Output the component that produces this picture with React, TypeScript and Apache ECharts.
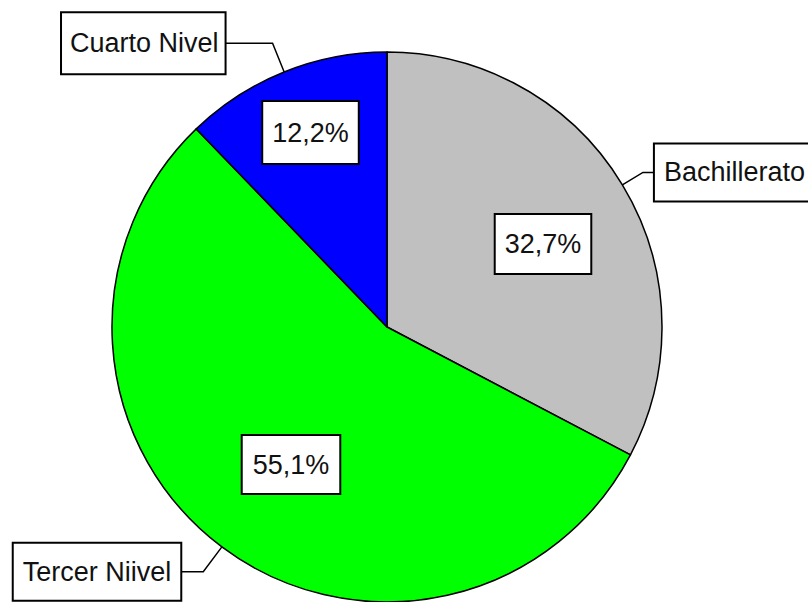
import React, { useEffect, useRef } from 'react';
import * as echarts from 'echarts';

// Data
const categories = ['Bachillerato', 'Tercer Niivel', 'Cuarto Nivel'];
const values = [32.7, 55.1, 12.2];
const colors = ['#C0C0C0', '#00FF00', '#0000FF'];

// Label layout helpers (styles / placement, not data)
const lineLen = [24, 31, 31];
const lineLen2 = [12, 23, 48];
const namePadding = [
  [9, 9, 17, 9],
  [9, 9, 17, 9],
  [10, 6, 20, 8],
];
const pctPadding = [
  [14, 9, 14, 9],
  [13, 10, 14, 10],
  [14, 9, 17, 9],
];
const pctCenters = [
  [543, 244],
  [291, 464.5],
  [310.5, 132.5],
];

const FONT = '"Liberation Sans", Arial, sans-serif';
const CENTER = [387, 327];
const RADIUS = 275;

const fmtPct = (v: number) => v.toFixed(1).replace('.', ',') + '%';

export default function App() {
  const ref = useRef<HTMLDivElement>(null);

  useEffect(() => {
    if (!ref.current) return;
    const chart = echarts.init(ref.current, null, { renderer: 'svg' });

    const boxLabel = {
      fontFamily: FONT,
      fontSize: 27,
      lineHeight: 30,
      color: '#111',
      backgroundColor: '#fff',
      borderColor: '#000',
      borderWidth: 2,
    };

    chart.setOption({
      animation: false,
      backgroundColor: '#fff',
      series: [
        {
          type: 'pie',
          center: CENTER,
          radius: RADIUS,
          startAngle: 90,
          clockwise: true,
          avoidLabelOverlap: false,
          emphasis: { disabled: true },
          itemStyle: { borderColor: '#000', borderWidth: 1.5 },
          label: {
            show: true,
            position: 'outside',
            alignTo: 'none',
            distanceToLabelLine: 0,
            formatter: '{b}',
            ...boxLabel,
          },
          labelLine: {
            show: true,
            smooth: false,
            lineStyle: { color: '#000', width: 1.5 },
          },
          data: categories.map((name, i) => ({
            name,
            value: values[i],
            itemStyle: { color: colors[i] },
            label: { padding: namePadding[i] },
            labelLine: { length: lineLen[i], length2: lineLen2[i] },
          })),
        },
        {
          type: 'pie',
          center: CENTER,
          radius: RADIUS,
          startAngle: 90,
          clockwise: true,
          silent: true,
          z: 3,
          avoidLabelOverlap: false,
          emphasis: { disabled: true },
          itemStyle: { color: 'rgba(0,0,0,0)', borderWidth: 0 },
          label: {
            show: true,
            position: 'inside',
            formatter: (p: any) => fmtPct(p.value),
            ...boxLabel,
          },
          labelLine: { show: false },
          labelLayout: (p: any) => ({
            x: pctCenters[p.dataIndex][0],
            y: pctCenters[p.dataIndex][1],
            align: 'center',
            verticalAlign: 'middle',
          }),
          data: categories.map((name, i) => ({
            name,
            value: values[i],
            label: { padding: pctPadding[i] },
          })),
        },
      ],
    });

    return () => chart.dispose();
  }, []);

  return (
    <div
      ref={ref}
      style={{ position: 'absolute', left: 0, top: 0, width: 808, height: 602 }}
    />
  );
}
